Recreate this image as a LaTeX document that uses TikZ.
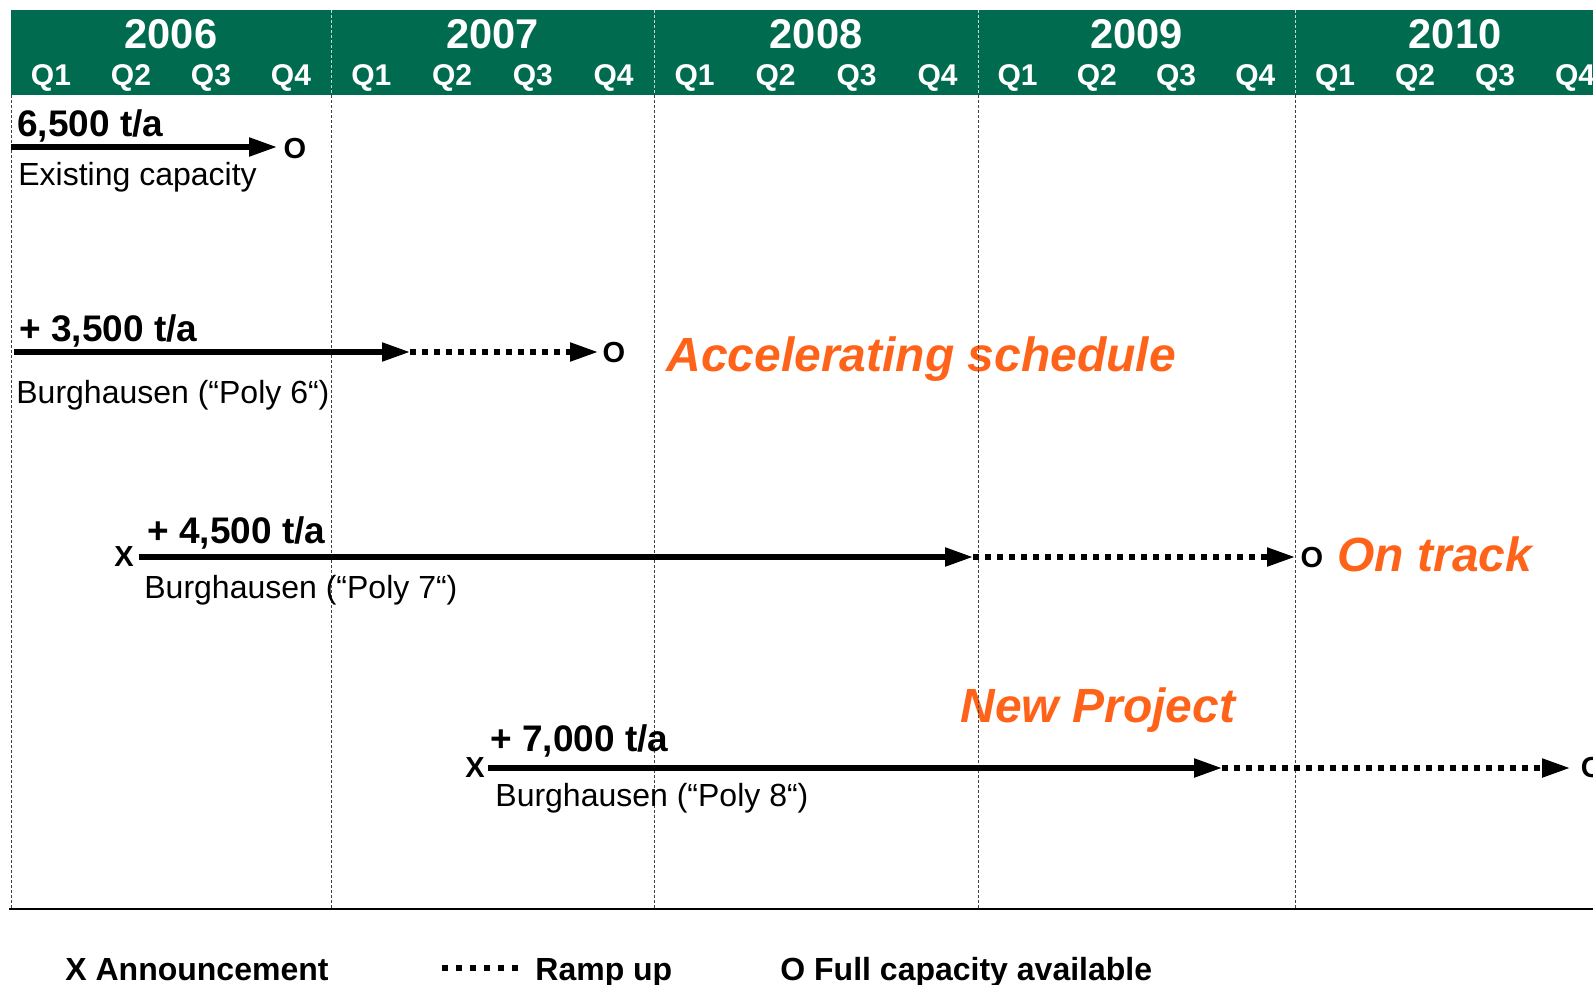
\documentclass[tikz,border=0pt]{standalone}
\usepackage{fontspec}
\setmainfont{Liberation Sans}
\usetikzlibrary{arrows.meta}
\definecolor{hdr}{HTML}{006B4F}
\definecolor{accent}{HTML}{FF6319}
\tikzset{
  yearlbl/.style={text=white,font=\fontsize{20.8}{22}\selectfont\bfseries,anchor=base,inner sep=0pt},
  qlbl/.style={text=white,font=\fontsize{15}{16}\selectfont\bfseries,anchor=base,inner sep=0pt},
  caplbl/.style={font=\fontsize{18.5}{20}\selectfont\bfseries,anchor=base west,inner sep=0pt},
  desclbl/.style={font=\fontsize{16}{18}\selectfont,anchor=base west,inner sep=0pt},
  marklbl/.style={font=\fontsize{14.5}{16}\selectfont\bfseries,inner sep=0pt},
  notelbl/.style={text=accent,font=\fontsize{24}{26}\selectfont\bfseries\itshape,anchor=base west,inner sep=0pt},
  legendlbl/.style={font=\fontsize{16}{18}\selectfont\bfseries,anchor=base west,inner sep=0pt},
  solidarr/.style={line width=2.6pt,-{Triangle[length=14pt,width=9pt]}},
  dotarr/.style={line width=2.6pt,dash pattern=on 2.8pt off 3.2pt,-{Triangle[length=14pt,width=9pt]}},
  legenddots/.style={line width=3pt,dash pattern=on 3pt off 4pt},
  divider/.style={line width=0.5pt,dash pattern=on 1.5pt off 1pt,black!75},
  hdrdivider/.style={line width=0.5pt,dash pattern=on 1.5pt off 1pt,white!75!hdr},
}
\begin{document}
\begin{tikzpicture}[x=0.5pt,y=-0.5pt]
\useasboundingbox (0,0) rectangle (1593,984);
% header band
\fill[hdr] (11,10) rectangle (1593,95);
\foreach \a/\b/\yr [count=\i] in {11/331/2006,331/654/2007,654/978/2008,978/1295/2009,1295/1615/2010}{
  \node[yearlbl] (y\i) at ({(\a+\b)/2},49) {\yr};
  \foreach \q in {1,...,4}
    \node[qlbl] (q\i\q) at ({\a+(\q-0.5)*(\b-\a)/4},86) {Q\q};
}
% orange notes
\node[notelbl] (n1) at (666,371) {Accelerating schedule};
\node[notelbl] (n2) at (1337,571) {On track};
\node[notelbl] (n3) at (960,722) {New Project};
% dividers
\draw[divider] (11,95) -- (11,909);
\foreach \x in {331,654,978,1295}{
  \draw[hdrdivider] (\x,10) -- (\x,95);
  \draw[divider] (\x,95) -- (\x,909);
}
\draw[line width=1pt] (9,909) -- (1593,909);
% row 1
\node[caplbl] (c1) at (17,137) {6,500 t/a};
\node[desclbl] (d1) at (18,185) {Existing capacity};
\coordinate (a1) at (11,147);
\coordinate (b1) at (277,147);
\node[marklbl] (o1) at (295,149) {O};
\draw[solidarr] (a1) -- (b1);
% row 2
\node[caplbl] (c2) at (19,341) {+ 3,500 t/a};
\node[desclbl] (d2) at (16,403) {Burghausen (“Poly 6“)};
\coordinate (a2) at (14,352);
\coordinate (b2) at (410,352);
\coordinate (e2) at (598,352);
\node[marklbl] (o2) at (614,353) {O};
\draw[solidarr] (a2) -- (b2);
\draw[dotarr] (b2) -- (e2);
% row 3
\node[marklbl] (x3) at (124,557) {X};
\node[caplbl] (c3) at (147,543) {+ 4,500 t/a};
\node[desclbl] (d3) at (144,598) {Burghausen (“Poly 7“)};
\coordinate (a3) at (139,557);
\coordinate (b3) at (973,557);
\coordinate (e3) at (1295,557);
\node[marklbl] (o3) at (1312,558) {O};
\draw[solidarr] (a3) -- (b3);
\draw[dotarr] (b3) -- (e3);
% row 4
\node[marklbl] (x4) at (475,768) {X};
\node[caplbl] (c4) at (490,751) {+ 7,000 t/a};
\node[desclbl] (d4) at (495,806) {Burghausen (“Poly 8“)};
\coordinate (a4) at (488,768);
\coordinate (b4) at (1222,768);
\coordinate (e4) at (1570,768);
\node[marklbl] (o4) at (1592,768) {O};
\draw[solidarr] (a4) -- (b4);
\draw[dotarr] (b4) -- (e4);
% legend
\node[legendlbl] (lx) at (65,980) {X Announcement};
\coordinate (ld1) at (442,968);
\coordinate (ld2) at (519,968);
\draw[legenddots] (ld1) -- (ld2);
\node[legendlbl] (lr) at (535,980) {Ramp up};
\node[legendlbl] (lo) at (780,980) {O Full capacity available};
\end{tikzpicture}
\end{document}
